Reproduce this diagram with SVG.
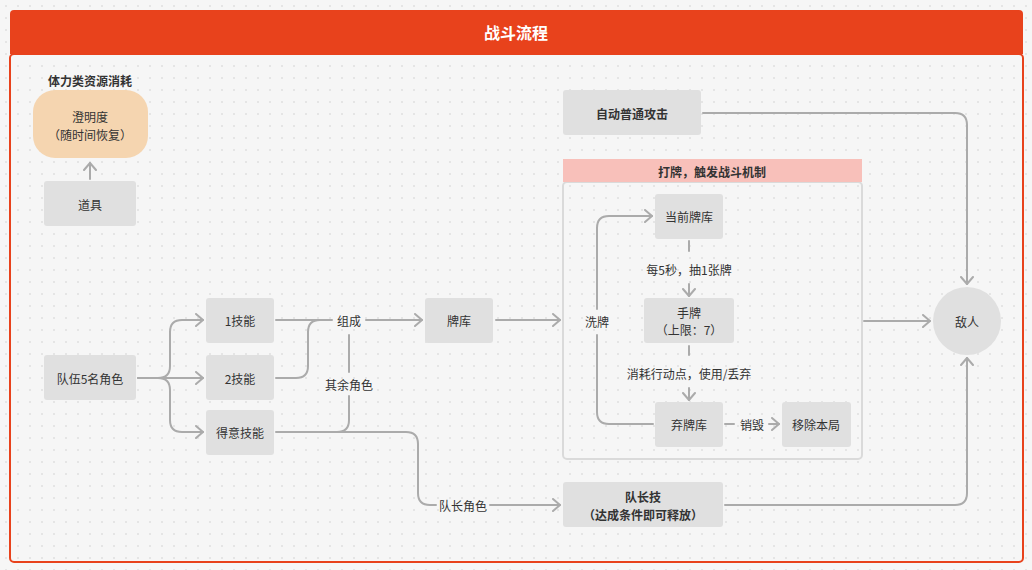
<svg xmlns="http://www.w3.org/2000/svg" width="1032" height="570" viewBox="0 0 1032 570">
<defs>
<pattern id="dots" x="0" y="0" width="12" height="12" patternUnits="userSpaceOnUse">
<circle cx="6" cy="6" r="0.7" fill="#C8C8C8"/>
</pattern>
<marker id="arr" viewBox="0 0 10 14" refX="8" refY="7" markerWidth="10" markerHeight="14" markerUnits="userSpaceOnUse" orient="auto">
<path d="M1,1 L8,7 L1,13" fill="none" stroke="#ABABAB" stroke-width="2" stroke-linecap="round" stroke-linejoin="round"/>
</marker>
<style>
text{font-family:"Noto Sans CJK SC","Noto Sans",sans-serif;font-size:12px;fill:#333;text-anchor:middle;dominant-baseline:central}
.b{font-weight:bold}
.node{fill:#E0E0E0}
.c{fill:none;stroke:#ABABAB;stroke-width:2;stroke-linecap:round;stroke-linejoin:round}
.ca{fill:none;stroke:#ABABAB;stroke-width:2;stroke-linecap:round;stroke-linejoin:round;marker-end:url(#arr)}
</style>
</defs>
<rect x="0" y="0" width="1032" height="570" fill="#F6F6F6"/>
<rect x="0" y="0" width="1032" height="570" fill="url(#dots)"/>
<g id="frame">
<rect x="10" y="54" width="1013" height="508" rx="4" fill="none" stroke="#E8421C" stroke-width="2"/>
<path d="M10,54 V14 Q10,10 14,10 H1019 Q1023,10 1023,14 V54 Z" fill="#E8421C"/>
<text x="516" y="32" class="b" style="font-size:16px;fill:#fff">战斗流程</text>
</g>
<g id="cardgroup">
<rect x="563" y="182" width="299" height="277" rx="4" fill="none" stroke="#DADADA" stroke-width="2"/>
<rect x="563" y="159" width="299" height="23" fill="#F8C0BA"/>
<text x="712" y="171" class="b">打牌，触发战斗机制</text>
</g>
<g id="connectors">
<path class="ca" d="M90,179 V163"/>
<path class="ca" d="M138,378 H158 Q170,378 170,366 V332 Q170,320 182,320 H203"/>
<path class="ca" d="M138,378 H203"/>
<path class="ca" d="M158,378 Q170,378 170,390 V420 Q170,432 182,432 H203"/>
<path class="c" d="M276,320 H332"/>
<path class="c" d="M276,378 H296 Q308,378 308,366 V332 Q308,320 320,320"/>
<path class="c" d="M276,432 H337 Q349,432 349,420 V396"/>
<path class="c" d="M349,372 V335"/>
<path class="c" d="M337,432 H406 Q418,432 418,444 V493 Q418,505 430,505 H436"/>
<path class="ca" d="M490,505 H560"/>
<path class="ca" d="M366,320 H422"/>
<path class="ca" d="M496,320 H560"/>
<path class="ca" d="M864,321 H930"/>
<path class="c" d="M689,241 V251"/>
<path class="ca" d="M689,284 V296"/>
<path class="c" d="M689,346 V355"/>
<path class="ca" d="M689,388 V400"/>
<path class="c" d="M725,424 H734"/>
<path class="ca" d="M769,424 H779"/>
<path class="c" d="M653,424 H609 Q597,424 597,412 V335"/>
<path class="ca" d="M597,309 V228 Q597,216 609,216 H652"/>
<path class="ca" d="M703,113 H955 Q967,113 967,125 V284"/>
<path class="ca" d="M725,505 H955 Q967,505 967,493 V358"/>
</g>
<g id="label-stamina"><text x="90" y="80" class="b">体力类资源消耗</text></g>
<g id="node-chengmingdu">
<rect x="33" y="90" width="115" height="68" rx="22" fill="#F5D5B0"/>
<text x="90" y="116">澄明度</text>
<text x="90" y="134">（随时间恢复）</text>
</g>
<g id="node-daoju"><rect class="node" x="44" y="181" width="92" height="45" rx="3"/><text x="90" y="204">道具</text></g>
<g id="node-team"><rect class="node" x="44" y="355" width="92" height="45" rx="3"/><text x="90" y="378">队伍5名角色</text></g>
<g id="node-skill1"><rect class="node" x="206" y="298" width="68" height="45" rx="3"/><text x="240" y="320">1技能</text></g>
<g id="node-skill2"><rect class="node" x="206" y="355" width="68" height="45" rx="3"/><text x="240" y="378">2技能</text></g>
<g id="node-skill3"><rect class="node" x="206" y="410" width="68" height="45" rx="3"/><text x="240" y="432">得意技能</text></g>
<g id="label-zucheng"><text x="349" y="320">组成</text></g>
<g id="label-qiyu"><text x="349" y="384">其余角色</text></g>
<g id="label-duizhang"><text x="463" y="505">队长角色</text></g>
<g id="node-paiku"><rect class="node" x="425" y="298" width="68" height="45" rx="3"/><text x="459" y="320">牌库</text></g>
<g id="node-current"><rect class="node" x="655" y="194" width="68" height="45" rx="3"/><text x="689" y="216">当前牌库</text></g>
<g id="label-draw"><text x="689" y="269">每5秒，抽1张牌</text></g>
<g id="node-hand"><rect class="node" x="644" y="298" width="90" height="45" rx="3"/><text x="689" y="312">手牌</text><text x="689" y="329">（上限：7）</text></g>
<g id="label-use"><text x="689" y="373">消耗行动点，使用/丢弃</text></g>
<g id="node-discard"><rect class="node" x="655" y="402" width="68" height="45" rx="3"/><text x="689" y="424">弃牌库</text></g>
<g id="label-destroy"><text x="752" y="424">销毁</text></g>
<g id="node-remove"><rect class="node" x="782" y="402" width="69" height="45" rx="3"/><text x="816" y="424">移除本局</text></g>
<g id="label-shuffle"><text x="597" y="321">洗牌</text></g>
<g id="node-auto"><rect class="node" x="563" y="90" width="138" height="45" rx="3"/><text x="632" y="113" class="b">自动普通攻击</text></g>
<g id="node-enemy"><circle cx="967" cy="321" r="34" fill="#E0E0E0"/><text x="967" y="321">敌人</text></g>
<g id="node-leader"><rect class="node" x="563" y="482" width="160" height="45" rx="3"/><text x="643" y="496" class="b">队长技</text><text x="643" y="514" class="b">（达成条件即可释放）</text></g>
</svg>
